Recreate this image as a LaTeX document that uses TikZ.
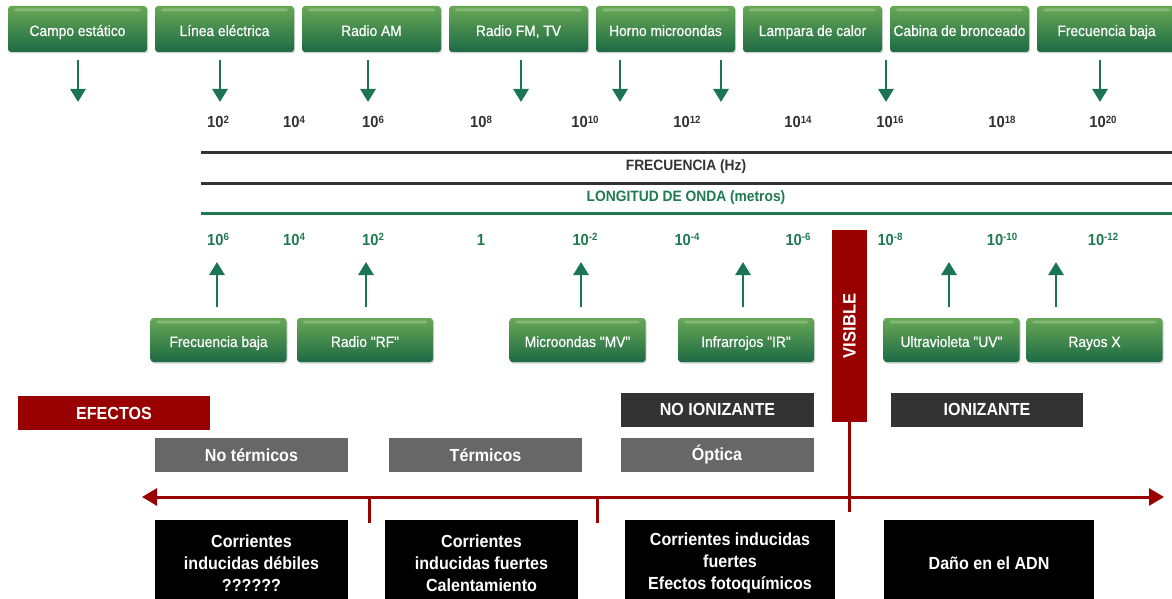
\documentclass[tikz,border=0pt]{standalone}
\usepackage{fontspec}
\setmainfont{Liberation Sans}[FakeStretch=0.92]
\newfontfamily\semibold{Liberation Sans}[FakeStretch=0.92,FakeBold=0.6]
\usetikzlibrary{arrows.meta,shadows}
\definecolor{GreenTop}{HTML}{68A855}
\definecolor{GreenBot}{HTML}{1D6A45}
\definecolor{Arrow}{HTML}{1B7552}
\definecolor{WaveGreen}{HTML}{1F7A50}
\definecolor{Ink}{HTML}{333333}
\definecolor{Mid}{HTML}{676767}
\definecolor{Dark}{HTML}{333333}
\definecolor{Crimson}{HTML}{990000}
\newcommand{\powr}[1]{\raisebox{4.5pt}{\fontsize{10.5}{10}\selectfont#1}}

\begin{document}
\begin{tikzpicture}[x=1pt,y=-1pt,
  src/.style={rounded corners=3pt,top color=GreenTop,bottom color=GreenBot,
    minimum width=139pt,minimum height=46pt,inner sep=0pt,text=white,
    text height=15pt,text depth=1pt,font=\semibold\fontsize{15}{18}\selectfont,
    drop shadow={shadow xshift=1pt,shadow yshift=-1.5pt,opacity=0.35},
    path picture={\fill[white,opacity=0.22,rounded corners=2pt]
      ([xshift=6pt,yshift=-2.5pt]path picture bounding box.north west) rectangle
      ([xshift=-6pt,yshift=-5.5pt]path picture bounding box.north east);}},
  band/.style={src,minimum width=136pt,minimum height=44pt},
  num/.style={font=\bfseries\fontsize{16}{18}\selectfont,inner sep=0pt,anchor=base},
  garrow/.style={-{Triangle[width=15pt,length=13pt]},line width=2.8pt,color=Arrow},
  hline/.style={line width=3pt},
  tag/.style={minimum width=193pt,minimum height=34pt,inner sep=0pt,text=white,
    font=\bfseries\fontsize{17.5}{21}\selectfont},
  effect/.style={fill=black,text=white,align=center,anchor=north,inner sep=0pt,
    minimum height=86pt,font=\bfseries\fontsize{17.5}{22}\selectfont},
  redaxis/.style={line width=3pt,color=Crimson}
]
\useasboundingbox (0,0) rectangle (1172,599);
\clip (0,0) rectangle (1172,599);

% Sources along the frequency scale.
\foreach \t [count=\i] in {Campo estático,Línea eléctrica,Radio AM,{Radio FM, TV},
    Horno microondas,Lampara de calor,Cabina de bronceado,Frecuencia baja}
  \node[src] (src\i) at ({77.5+147*(\i-1)},29) {\t};
\foreach \x [count=\i] in {78,220,368,521,620,721,886,1100} {
  \coordinate (dn\i) at (\x,60);
  \coordinate (dt\i) at (\x,102);
  \draw[garrow] (dn\i) -- (dt\i);
}

% Frequency and wavelength scales.
\foreach \x/\f/\w [count=\i] in {218/10\powr{2}/10\powr{6},294/10\powr{4}/10\powr{4},
    373/10\powr{6}/10\powr{2},481/10\powr{8}/1,585/10\powr{10}/10\powr{-2},
    687/10\powr{12}/10\powr{-4},798/10\powr{14}/10\powr{-6},890/10\powr{16}/10\powr{-8},
    1002/10\powr{18}/10\powr{-10},1103/10\powr{20}/10\powr{-12}} {
  \node[num,text=Ink] (f\i) at (\x,128) {\f};
  \node[num,text=WaveGreen] (w\i) at (\x,245) {\w};
}
\draw[hline,Ink] (201,152) -- (1172,152);
\draw[hline,Ink] (201,183) -- (1172,183);
\draw[hline,WaveGreen] (201,213) -- (1172,213);
\node[font=\bfseries\fontsize{15}{18}\selectfont,text=Ink] (freq) at (686,167)
  {FRECUENCIA (Hz)};
\node[font=\bfseries\fontsize{15}{18}\selectfont,text=WaveGreen] (wave) at (686,198)
  {LONGITUD DE ONDA (metros)};

% Bands along the wavelength scale.
\foreach \x [count=\i] in {217,366,581,743,949,1056} {
  \coordinate (us\i) at (\x,307);
  \coordinate (ut\i) at (\x,262);
  \draw[garrow] (us\i) -- (ut\i);
}
\foreach \x/\t [count=\i] in {218.5/Frecuencia baja,365/{Radio "RF"},
    577.5/{Microondas "MV"},746/{Infrarrojos "IR"},951.5/{Ultravioleta "UV"},
    1094.5/Rayos X}
  \node[band] (band\i) at (\x,340) {\t};
\node[fill=Crimson,rotate=90,minimum width=192pt,minimum height=35pt,inner sep=0pt,
  text=white,font=\bfseries\fontsize{18}{20}\selectfont] (vis) at (849.5,326) {VISIBLE};

% Effects.
\node[tag,fill=Crimson,minimum width=192pt] (efectos) at (114,413) {EFECTOS};
\node[tag,fill=Dark] (noion) at (717.5,409.5) {NO IONIZANTE};
\node[tag,fill=Dark,minimum width=192pt] (ion) at (987,409.5) {IONIZANTE};
\node[tag,fill=Mid] (notherm) at (251.5,455) {No térmicos};
\node[tag,fill=Mid] (therm) at (485.5,455) {Térmicos};
\node[tag,fill=Mid] (optica) at (717,455) {Óptica};

\coordinate (axl) at (142,497);
\coordinate (axr) at (1164,497);
\draw[redaxis,{Triangle[length=15pt,width=17pt]}-{Triangle[length=15pt,width=17pt]}]
  (axl) -- (axr);
\foreach \x [count=\i] in {369,597} {
  \coordinate (tk\i) at (\x,497);
  \coordinate (tke\i) at (\x,523);
  \draw[redaxis] (tk\i) -- (tke\i);
}
\coordinate (visend) at (849.5,512);
\draw[redaxis] (vis.west) -- (visend);

\node[effect,minimum width=193pt] (eff1) at (251.5,520)
  {Corrientes\\inducidas débiles\\??????};
\node[effect,minimum width=193pt] (eff2) at (481.5,520)
  {Corrientes\\inducidas fuertes\\Calentamiento};
\node[effect,minimum width=210pt] (eff3) at (730,520)
  {Corrientes inducidas\\fuertes\\Efectos fotoquímicos};
\node[effect,minimum width=210pt] (eff4) at (989,520) {Daño en el ADN};
\end{tikzpicture}
\end{document}
